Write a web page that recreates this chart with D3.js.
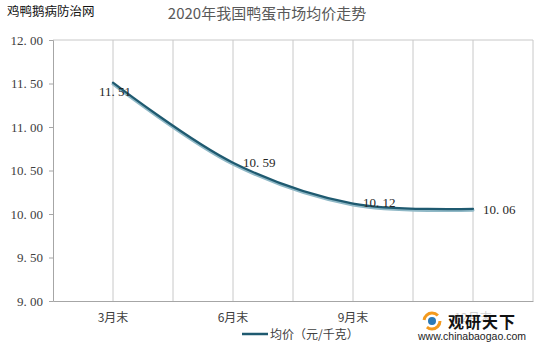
<!DOCTYPE html>
<html><head><meta charset="utf-8">
<script src="https://cdn.jsdelivr.net/npm/d3@7"></script>
<style>body{margin:0;background:#fff}svg{display:block}</style>
</head><body>
<svg id="c" width="534" height="343"></svg>
<script>
const categories = ["3月末","6月末","9月末","12月末"];
const values = [11.51, 10.59, 10.12, 10.06];
const yTicks = [9.0, 9.5, 10.0, 10.5, 11.0, 11.5, 12.0];
const title = "2020年我国鸭蛋市场均价走势";
const seriesName = "均价（元/千克）";

const svg = d3.select("#c");
const W = 534, H = 343;
const m = {l:53, r:1, t:40, b:42};
const x = d3.scaleBand().domain(categories).range([m.l, W - m.r]);
const y = d3.scaleLinear().domain([9, 12]).range([H - m.b, m.t]);
const serif = "'Liberation Serif','DejaVu Serif',serif";
const cjk = "'Noto Sans CJK SC','Noto Sans',sans-serif";

// vertical gridlines every half band
const gx = [];
categories.forEach(c => { gx.push(x(c)); gx.push(x(c) + x.bandwidth()/2); });
gx.push(x.range()[1]);
svg.append("g").selectAll("line").data(gx.slice(1)).join("line")
  .attr("x1", d => d).attr("x2", d => d).attr("y1", y(12)).attr("y2", y(9))
  .attr("stroke", "#c8c8c8").attr("stroke-width", 1);
svg.append("line").attr("x1", m.l).attr("x2", x.range()[1]).attr("y1", y(12)).attr("y2", y(12))
  .attr("stroke", "#c8c8c8");

// y axis
const ya = svg.append("g").attr("transform", `translate(${m.l},0)`)
  .call(d3.axisLeft(y).tickValues(yTicks).tickSize(4).tickPadding(6).tickFormat(d3.format(".2f")));
ya.select(".domain").attr("stroke", "#a6a6a6");
ya.selectAll(".tick line").attr("stroke", "#a6a6a6");
ya.selectAll("text").attr("font-family", serif).attr("font-size", 13).attr("fill", "#404040")
  .text(d => d3.format(".2f")(d).replace(".", ". "));

// x axis
const xa = svg.append("g").attr("transform", `translate(0,${y(9)})`)
  .call(d3.axisBottom(x).tickSize(0).tickPadding(12));
xa.select(".domain").attr("stroke", "#a6a6a6");
xa.selectAll("text").attr("font-family", cjk).attr("font-size", 12).attr("fill", "#404040");

// line
const pts = categories.map((c, i) => [x(c) + x.bandwidth()/2, y(values[i])]);
const line = d3.line().curve(d3.curveCatmullRom.alpha(0.5));
svg.append("path").attr("d", line(pts)).attr("transform", "translate(0,1.5)")
  .attr("fill", "none").attr("stroke", "#8fb8c6").attr("stroke-width", 3).attr("stroke-linecap", "round");
svg.append("path").attr("d", line(pts))
  .attr("fill", "none").attr("stroke", "#1f5a70").attr("stroke-width", 2.2).attr("stroke-linecap", "round");

// data labels
const offs = [[2, 13], [10, 4], [10, 3], [10, 5]];
const anchors = ["middle", "start", "start", "start"];
svg.append("g").selectAll("text").data(values).join("text")
  .attr("x", (d, i) => pts[i][0] + offs[i][0])
  .attr("y", (d, i) => pts[i][1] + offs[i][1])
  .attr("text-anchor", (d, i) => anchors[i])
  .attr("font-family", serif).attr("font-size", 13).attr("fill", "#262626")
  .text(d => d3.format(".2f")(d).replace(".", ". "));

// title
svg.append("text").attr("x", 267).attr("y", 19).attr("text-anchor", "middle")
  .attr("font-family", cjk).attr("font-size", 15).attr("fill", "#595959").text(title);
svg.append("text").attr("x", 7).attr("y", 16)
  .attr("font-family", cjk).attr("font-size", 12.5).attr("fill", "#111").text("鸡鸭鹅病防治网");

// legend
svg.append("line").attr("x1", 242).attr("x2", 268).attr("y1", 334).attr("y2", 334)
  .attr("stroke", "#1f5a70").attr("stroke-width", 2.5);
svg.append("text").attr("x", 270).attr("y", 339)
  .attr("font-family", cjk).attr("font-size", 12).attr("fill", "#404040").text(seriesName);

// watermark
const wm = svg.append("g");
wm.append("rect").attr("x", 415).attr("y", 308).attr("width", 119).attr("height", 35).attr("fill", "#fff").attr("opacity", 0.75);
wm.append("circle").attr("cx", 432).attr("cy", 321).attr("r", 8).attr("fill", "none")
  .attr("stroke", "#f39a1e").attr("stroke-width", 3).attr("stroke-dasharray", "18 8");
wm.append("circle").attr("cx", 432).attr("cy", 321).attr("r", 4).attr("fill", "#2a7ab8");
wm.append("text").attr("x", 448).attr("y", 328).attr("font-family", cjk).attr("font-weight", "bold")
  .attr("font-size", 16).attr("fill", "#111").attr("letter-spacing", 1).text("观研天下");
wm.append("text").attr("x", 418).attr("y", 340).attr("font-family", "'Liberation Sans',Arial,sans-serif")
  .attr("font-size", 10.5).attr("fill", "#222").text("www.chinabaogao.com");
</script>
</body></html>
